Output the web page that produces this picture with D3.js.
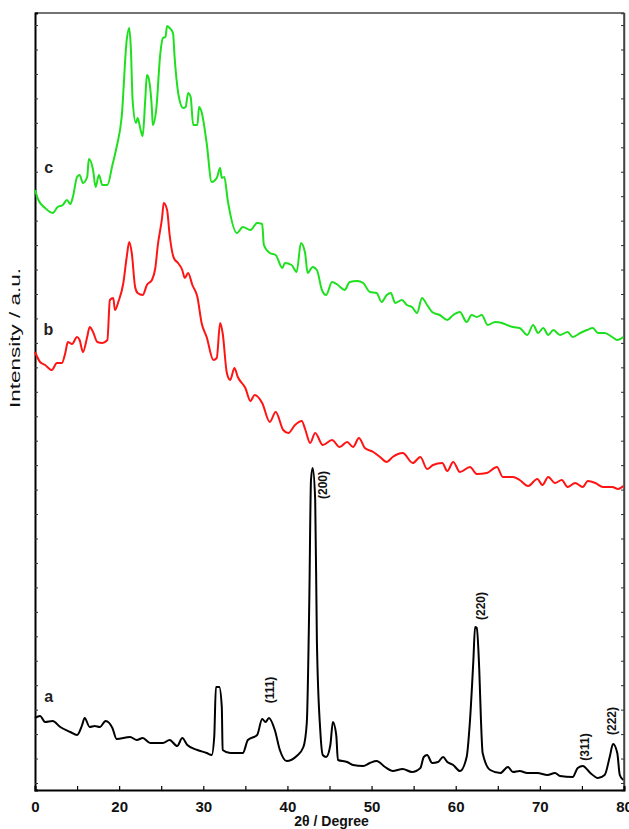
<!DOCTYPE html>
<html lang="en">
<head>
  <meta charset="UTF-8">
  <title>XRD patterns</title>
  <script src="https://d3js.org/d3.v7.min.js"></script>
  <style>
    body { margin: 0; background: #fff; }
    text { font-family: "Liberation Sans", Arial, sans-serif; }
  </style>
</head>
<body>
  <svg width="629" height="829"></svg>

  <script>
    // [2θ, intensity (a.u.)]
    const sampleA = [
      [10.0,72],[10.6,74],[11.2,68],[12.1,69],[13.0,63],[14.2,58],[15.0,55],[15.6,65],[15.9,72],
      [16.5,63],[17.1,64],[17.7,63],[18.4,69],[19.2,62],[19.7,51],[21.3,53],[22.1,50],[22.8,52],
      [23.7,47],[25.2,47],[26.0,50],[26.9,44],[27.5,52],[28.1,45],[29.3,40],[30.4,37],[31.0,35],
      [31.3,53],[31.5,103],[31.9,103],[32.2,83],[32.3,40],[33.2,37],[34.7,37],[35.3,50],[36.4,55],
      [37.0,71],[37.4,68],[37.8,72],[38.5,60],[39.1,40],[39.9,29],[41.1,34],[41.9,43],[42.3,67],
      [42.6,190],[42.8,310],[43.0,322],[43.3,290],[43.5,150],[43.9,60],[44.2,35],[44.6,33],
      [45.1,45],[45.4,68],[45.8,55],[46.0,30],[47.1,28],[47.8,25],[49.0,24],[49.8,27],[50.6,29],
      [51.6,23],[52.5,19],[53.7,21],[54.8,18],[55.8,22],[56.2,33],[56.6,35],[57.2,27],[57.9,28],
      [58.5,33],[59.0,28],[59.7,25],[60.5,19],[61.3,33],[61.7,70],[62.1,130],[62.3,163],[62.5,162],
      [62.8,120],[63.0,70],[63.2,37],[64.1,20],[65.3,17],[66.2,23],[66.8,18],[67.6,19],[68.5,17],
      [69.7,17],[70.9,15],[71.8,17],[72.4,14],[73.9,13],[74.5,22],[75.1,24],[76.0,17],[76.9,12],
      [77.7,15],[78.3,33],[78.7,46],[79.2,37],[79.5,15],[79.9,10]
    ];

    const sampleB = [
      [10.0,438],[10.6,428],[11.2,425],[12.0,420],[12.6,427],[13.2,427],[13.6,437],[13.9,448],
      [14.4,446],[15.0,453],[15.3,450],[15.7,438],[16.2,453],[16.5,463],[16.9,458],[17.4,448],
      [18.0,447],[18.6,450],[18.9,490],[19.3,492],[19.5,480],[19.9,488],[20.5,507],[20.9,533],
      [21.2,548],[21.5,537],[21.9,503],[22.2,497],[22.8,495],[23.3,505],[23.9,510],[24.3,522],
      [24.6,545],[25.1,572],[25.3,587],[25.7,580],[26.0,555],[26.5,532],[27.0,527],[27.5,520],
      [27.8,512],[28.2,517],[28.7,505],[29.3,493],[29.8,467],[30.4,453],[31.2,430],[31.6,432],
      [32.0,467],[32.3,457],[32.8,417],[33.2,410],[33.7,422],[34.1,413],[35.0,402],[35.6,389],
      [36.1,395],[37.0,387],[37.9,368],[38.6,378],[39.5,360],[40.1,357],[40.9,365],[41.7,369],
      [42.1,361],[42.7,347],[43.3,357],[44.2,345],[45.3,350],[46.2,343],[47.1,348],[47.8,343],
      [48.5,352],[49.2,342],[50.2,338],[51.0,333],[51.8,328],[52.5,333],[53.7,337],[54.9,327],
      [55.8,333],[56.6,321],[57.3,325],[58.4,327],[59.0,319],[59.7,328],[60.5,318],[61.7,323],
      [62.5,316],[63.7,317],[64.9,323],[65.6,313],[66.8,313],[67.6,310],[68.6,304],[69.7,311],
      [70.3,305],[71.0,313],[71.8,307],[72.6,310],[73.3,303],[74.2,307],[75.1,303],[75.7,309],
      [76.6,307],[77.5,303],[78.6,303],[79.3,301],[79.9,304]
    ];

    const sampleC = [
      [10.0,600],[10.4,590],[11.2,582],[12.1,577],[12.7,583],[13.3,585],[13.8,590],[14.2,586],
      [14.5,593],[15.0,613],[15.3,615],[15.7,607],[16.2,613],[16.4,631],[16.9,620],[17.2,603],
      [17.6,615],[18.0,605],[18.6,605],[19.2,625],[19.7,643],[20.3,673],[20.9,750],[21.2,762],
      [21.4,740],[21.6,690],[22.0,667],[22.2,672],[22.5,662],[22.8,654],[23.1,690],[23.3,715],
      [23.5,712],[23.9,680],[24.0,665],[24.4,680],[24.9,737],[25.2,752],[25.5,753],[25.7,764],
      [26.0,762],[26.4,757],[26.6,732],[27.1,693],[27.6,682],[27.9,683],[28.2,697],[28.5,693],
      [28.8,665],[29.3,665],[29.5,683],[29.8,678],[30.4,647],[31.0,608],[31.6,612],[32.0,622],
      [32.2,612],[32.5,613],[32.9,590],[34.0,557],[34.7,563],[35.6,560],[36.4,567],[37.0,566],
      [37.2,545],[37.9,537],[38.6,535],[39.4,522],[39.7,527],[40.5,525],[41.1,518],[41.6,547],
      [42.1,537],[42.4,517],[43.0,523],[43.5,520],[44.1,500],[44.6,495],[45.3,508],[46.0,505],
      [46.8,500],[47.4,508],[48.3,509],[49.0,507],[49.8,498],[50.6,497],[51.2,488],[51.8,495],
      [52.3,497],[52.8,487],[53.6,490],[54.2,485],[54.8,483],[55.4,477],[56.0,492],[56.6,485],
      [57.2,478],[58.1,475],[59.0,470],[59.7,475],[60.5,478],[61.3,468],[61.9,475],[62.5,473],
      [63.1,475],[63.8,465],[64.7,468],[65.5,467],[66.1,465],[66.8,463],[67.6,462],[68.5,455],
      [69.2,465],[69.8,457],[70.4,462],[71.0,455],[71.6,460],[72.4,455],[73.3,458],[73.9,453],
      [74.8,457],[75.6,460],[76.3,462],[76.9,457],[77.7,457],[78.6,453],[79.2,450],[79.9,453]
    ];

    const seriesNames = ["a", "b", "c"];
    const seriesColors = ["#000000", "#ff1414", "#1ee01e"];

    const xTickValues = [10, 20, 30, 40, 50, 60, 70, 80];
    const xTickLabels = ["0", "20", "30", "40", "50", "60", "70", "80"];

    // hkl reflections of sample a: [label, 2θ, intensity where label sits]
    const peakLabels = [
      ["(111)", 37.9, 100],
      ["(200)", 44.2, 305],
      ["(220)", 63.0, 184],
      ["(311)", 75.4, 43],
      ["(222)", 78.6, 69]
    ];

    const margin = { top: 13, right: 5, bottom: 39, left: 35 };
    const width = 629 - margin.left - margin.right;
    const height = 829 - margin.top - margin.bottom;

    const svg = d3.select("svg")
      .append("g")
      .attr("transform", "translate(" + margin.left + "," + margin.top + ")");

    const x = d3.scaleLinear().domain([10, 80]).range([0, width]);
    const y = d3.scaleLinear().domain([0, 777]).range([height, 0]);

    // frame: top and right
    svg.append("line").attr("x1", 0).attr("x2", width).attr("y1", 0).attr("y2", 0)
      .attr("stroke", "#444").attr("stroke-width", 1.5);
    svg.append("line").attr("x1", width).attr("x2", width).attr("y1", 0).attr("y2", height)
      .attr("stroke", "#444").attr("stroke-width", 1.5);

    // y ticks (no labels), left and right, pointing inwards
    const yTicks = d3.range(7, 777, 24.45);
    const yLeft = svg.append("g")
      .call(d3.axisLeft(y).tickValues(yTicks).tickSize(-3).tickFormat(""));
    const yRight = svg.append("g")
      .attr("transform", "translate(" + width + ",0)")
      .call(d3.axisRight(y).tickValues(yTicks).tickSize(-3).tickFormat(""));
    yLeft.select(".domain").attr("stroke-width", 2);
    yRight.select(".domain").attr("stroke", "#444").attr("stroke-width", 1.5);
    yLeft.selectAll(".tick line").attr("stroke", "#333");
    yRight.selectAll(".tick line").attr("stroke", "#333");

    // x axis
    const xAxis = svg.append("g")
      .attr("transform", "translate(0," + height + ")")
      .call(d3.axisBottom(x)
        .tickValues(d3.range(10, 81, 5))
        .tickSize(-4)
        .tickPadding(11)
        .tickFormat(d => {
          const i = xTickValues.indexOf(d);
          return i >= 0 ? xTickLabels[i] : "";
        }));
    xAxis.select(".domain").attr("stroke-width", 2);
    xAxis.selectAll(".tick line").attr("stroke-width", 1.2);
    xAxis.selectAll("text")
      .attr("font-size", 15).attr("font-weight", "bold").attr("fill", "#111")
      .style("font-family", "'Liberation Sans', Arial, sans-serif");

    // curves
    const line = d3.line().curve(d3.curveMonotoneX).x(d => x(d[0])).y(d => y(d[1]));
    [sampleA, sampleB, sampleC].forEach((data, i) => {
      svg.append("path")
        .datum(data)
        .attr("fill", "none")
        .attr("stroke", seriesColors[i])
        .attr("stroke-width", 2)
        .attr("stroke-linejoin", "round")
        .attr("d", line);
    });

    // series letters
    const letterPos = [[11.1, 88], [11.0, 455], [11.1, 617]];
    seriesNames.forEach((n, i) => {
      svg.append("text")
        .attr("x", x(letterPos[i][0]))
        .attr("y", y(letterPos[i][1]))
        .attr("font-size", 16)
        .attr("font-weight", "bold")
        .attr("fill", "#222")
        .text(n);
    });

    // peak labels, rotated
    peakLabels.forEach(p => {
      svg.append("text")
        .attr("transform", "translate(" + x(p[1]) + "," + y(p[2]) + ") rotate(-90)")
        .attr("text-anchor", "middle")
        .attr("dy", "0.35em")
        .attr("font-size", 12)
        .attr("font-weight", "bold")
        .attr("fill", "#111")
        .text(p[0]);
    });

    // axis titles
    svg.append("text")
      .attr("x", width / 2 + 2)
      .attr("y", height + 36)
      .attr("text-anchor", "middle")
      .attr("font-size", 14)
      .attr("font-weight", "bold")
      .attr("fill", "#111")
      .text("2θ / Degree");

    svg.append("text")
      .attr("transform", "translate(-15," + (338 - margin.top) + ") rotate(-90)")
      .attr("text-anchor", "middle")
      .attr("font-size", 15)
      .attr("fill", "#111")
      .attr("textLength", 140)
      .attr("lengthAdjust", "spacingAndGlyphs")
      .text("Intensity / a.u.");
  </script>
</body>
</html>
